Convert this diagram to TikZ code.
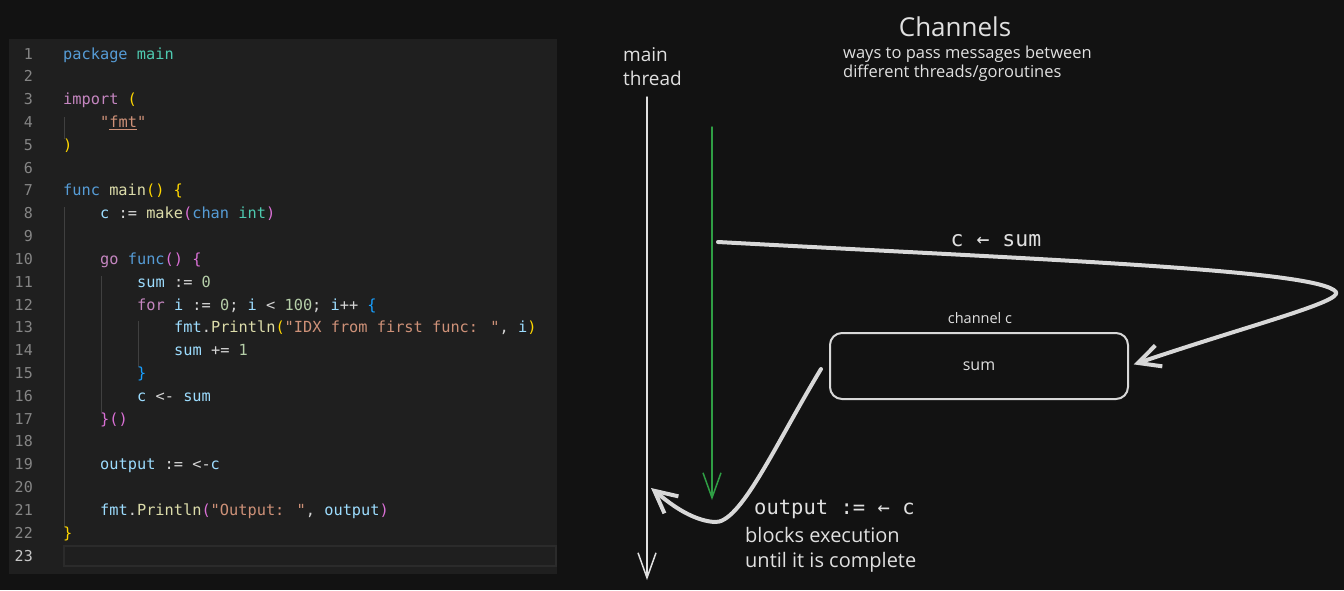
\documentclass[tikz,border=0pt]{standalone}
\usepackage{fontspec}
\usepackage{tikz}
\usetikzlibrary{arrows.meta}

\newfontfamily\codefont{DejaVu Sans Mono}
\newfontfamily\handfont{Open Sans}

\definecolor{bgdark}{HTML}{121212}
\definecolor{panelgray}{HTML}{1F1F1F}
\definecolor{curline}{HTML}{2B2B2B}
\definecolor{numgray}{HTML}{858585}
\definecolor{numlight}{HTML}{C6C6C6}
\definecolor{guidegray}{HTML}{404040}
\definecolor{cop}{HTML}{D4D4D4}
\definecolor{ckw}{HTML}{569CD6}
\definecolor{cpk}{HTML}{C586C0}
\definecolor{cty}{HTML}{4EC9B0}
\definecolor{cfn}{HTML}{DCDCAA}
\definecolor{cvr}{HTML}{9CDCFE}
\definecolor{cnm}{HTML}{B5CEA8}
\definecolor{cst}{HTML}{CE9178}
\definecolor{cgd}{HTML}{FFD700}
\definecolor{cor}{HTML}{DA70D6}
\definecolor{cbl}{HTML}{179FFF}
\definecolor{inkgray}{HTML}{E0E0E0}
\definecolor{strokegray}{HTML}{D8D8D8}
\definecolor{inkgreen}{HTML}{2F9E44}

\newcommand{\tkw}[1]{\textcolor{ckw}{#1}}
\newcommand{\tpk}[1]{\textcolor{cpk}{#1}}
\newcommand{\tty}[1]{\textcolor{cty}{#1}}
\newcommand{\tfn}[1]{\textcolor{cfn}{#1}}
\newcommand{\tvr}[1]{\textcolor{cvr}{#1}}
\newcommand{\tnm}[1]{\textcolor{cnm}{#1}}
\newcommand{\tst}[1]{\textcolor{cst}{#1}}
\newcommand{\tgd}[1]{\textcolor{cgd}{#1}}
\newcommand{\tor}[1]{\textcolor{cor}{#1}}
\newcommand{\tbl}[1]{\textcolor{cbl}{#1}}

\begin{document}
\begin{tikzpicture}[x=1pt,y=-1pt,
    lnum/.style={anchor=base east,inner sep=0,text=numgray,font=\codefont\fontsize{15}{18}\selectfont},
    code/.style={anchor=base west,inner sep=0,text=cop,font=\codefont\fontsize{15.3}{18}\selectfont},
    guide/.style={draw=guidegray,line width=1pt},
    hand/.style={text=inkgray,align=left,inner sep=0},
    thinarrow/.style={-{Straight Barb[length=25pt,width=18pt]},line width=1.5pt,line cap=round},
    thickarrow/.style={-{Straight Barb[length=22pt,width=22pt]},line width=4pt,line cap=round,line join=round}]

    % background and editor panel
    \fill[bgdark] (0,0) rectangle (1344,590);
    \fill[panelgray] (9,39) rectangle (557,574);
    \draw[curline,line width=1.5pt] (64,546) rectangle (556,566);

    % indent guides
    \draw[guide] (64,117) -- (64,139);
    \draw[guide] (64,207) -- (64,527);
    \draw[guide] (101,276) -- (101,412);
    \draw[guide] (138,321) -- (138,367);

    % line numbers
    \foreach \i in {1,...,22}
        \node[lnum] (n\i) at (33,{59+(\i-1)*22.82}) {\i};
    \node[lnum,text=numlight] (n23) at (33,561) {23};

    % source code
    \node[code] (l1) at (63,59) {\tkw{package} \tty{main}};
    \node[code] (l3) at (63,104.6) {\tpk{import} \tgd{(}};
    \node[code] (l4) at (100,127.5) {\tst{"\underline{fmt}"}};
    \node[code] (l5) at (63,150.3) {\tgd{)}};
    \node[code] (l7) at (63,195.9) {\tkw{func} \tfn{main}\tgd{() \{}};
    \node[code] (l8) at (100,218.7) {\tvr{c} := \tfn{make}\tor{(}\tkw{chan} \tty{int}\tor{)}};
    \node[code] (l10) at (100,264.4) {\tpk{go} \tkw{func}\tor{() \{}};
    \node[code] (l11) at (137,287.2) {\tvr{sum} := \tnm{0}};
    \node[code] (l12) at (137,310.0) {\tpk{for} \tvr{i} := \tnm{0}; \tvr{i} < \tnm{100}; \tvr{i}++ \tbl{\{}};
    \node[code] (l13) at (174,332.8) {\tvr{fmt}.\tfn{Println}\tgd{(}\tst{"IDX from first func: "}, \tvr{i}\tgd{)}};
    \node[code] (l14) at (174,355.7) {\tvr{sum} += \tnm{1}};
    \node[code] (l15) at (137,378.5) {\tbl{\}}};
    \node[code] (l16) at (137,401.3) {\tvr{c} <- \tvr{sum}};
    \node[code] (l17) at (100,424.1) {\tor{\}()}};
    \node[code] (l19) at (100,469.8) {\tvr{output} := <-\tvr{c}};
    \node[code] (l21) at (100,515.4) {\tvr{fmt}.\tfn{Println}\tor{(}\tst{"Output: "}, \tvr{output}\tor{)}};
    \node[code] (l22) at (63,538.2) {\tgd{\}}};

    % headings
    \node[hand,font=\handfont\fontsize{26}{30}\selectfont] (title) at (955,27) {Channels};
    \node[hand,anchor=west,font=\handfont\fontsize{16.5}{19}\selectfont] (subtitle) at (843,64)
        {ways to pass messages between\\different threads/goroutines};
    \node[hand,anchor=west,font=\handfont\fontsize{19}{24}\selectfont] (mainlbl) at (623,67) {main\\thread};

    % threads
    \coordinate (mtop) at (647,97);
    \coordinate (mbot) at (647,580);
    \coordinate (gtop) at (712,127);
    \coordinate (gbot) at (712,500);
    \draw[thinarrow,draw=inkgray] (mtop) -- (mbot);
    \draw[thinarrow,draw=inkgreen] (gtop) -- (gbot);

    % channel
    \node[draw=strokegray,line width=2pt,rounded corners=12pt,minimum width=298pt,minimum height=66pt,
          text=inkgray,font=\handfont\fontsize{16}{19}\selectfont] (box) at (979,366) {sum};
    \node[hand,font=\handfont\fontsize{14.5}{17}\selectfont] (chlbl) at (980,318) {channel c};

    % send and receive
    \coordinate (send) at (718,242);
    \coordinate (recv) at (821,369);
    \coordinate (mjoin) at (651,488);
    \draw[thickarrow,draw=strokegray,shorten >=5pt] (send) .. controls (1050,260) and (1320,270) .. (1336,292)
        .. controls (1342,302) and (1250,325) .. (box.east);
    \draw[thickarrow,draw=strokegray] (recv) .. controls (775,445) and (740,525) .. (714,522)
        .. controls (690,520) and (668,502) .. (mjoin);

    \node[hand,font=\codefont\fontsize{21.5}{24}\selectfont] (sendlbl) at (996,241) {c ← sum};
    \node[hand,anchor=west,font=\codefont\fontsize{20.5}{24}\selectfont] (recvlbl) at (754,509) {output := ← c};
    \node[hand,anchor=west,font=\handfont\fontsize{20}{25}\selectfont] (blocklbl) at (745,550)
        {blocks execution\\until it is complete};
\end{tikzpicture}
\end{document}
